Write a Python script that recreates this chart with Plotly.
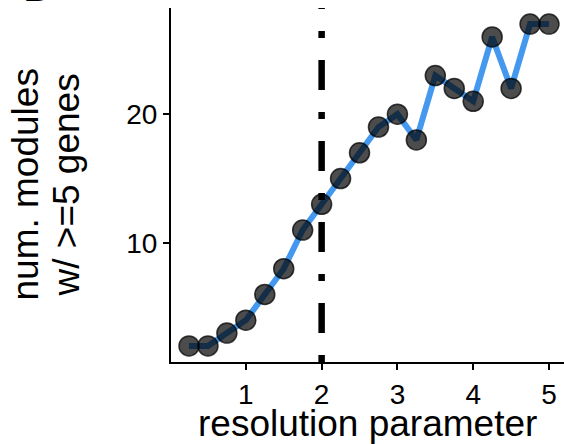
import plotly.graph_objects as go

resolution = [0.25, 0.5, 0.75, 1.0, 1.25, 1.5, 1.75, 2.0, 2.25, 2.5,
              2.75, 3.0, 3.25, 3.5, 3.75, 4.0, 4.25, 4.5, 4.75, 5.0]
num_modules = [2, 2, 3, 4, 6, 8, 11, 13, 15, 17,
               19, 20, 18, 23, 22, 21, 26, 22, 27, 27]
x_ticks = [1, 2, 3, 4, 5]
y_ticks = [10, 20]
chosen_resolution = 2
y_title_lines = ["num. modules", "w/ >=5 genes"]

W, H = 564, 444
L, R, T, B = 171, 0, 8, 82
PW = W - L - R
PH = H - T - B
FONT = "Liberation Sans, Arial, sans-serif"

fig = go.Figure()
fig.add_trace(go.Scatter(
    x=resolution, y=num_modules, mode="lines",
    line=dict(color="#4499EE", width=6), hoverinfo="skip", showlegend=False))
fig.add_trace(go.Scatter(
    x=resolution, y=num_modules, mode="markers",
    marker=dict(size=20, color="rgba(0,0,0,0.7)",
                line=dict(color="rgba(0,0,0,0.75)", width=1.5)),
    showlegend=False))

fig.add_shape(type="line", xref="x", yref="paper",
              x0=chosen_resolution, x1=chosen_resolution, y0=0, y1=1,
              line=dict(color="black", width=6.5, dash="7px,22px,30px,22px"))

annotations = [
    dict(text="resolution parameter", xref="paper", yref="paper",
         x=0.5, y=-(437 - 362) / PH, xanchor="center",
         yanchor="bottom", showarrow=False, yshift=-9,
         font=dict(size=37, color="black", family=FONT)),
    dict(text="<b>B</b>", xref="paper", yref="paper",
         x=-(171 - 36) / PW, y=1 + (T - 3) / PH,
         xanchor="center", yanchor="bottom", showarrow=False, yshift=-7,
         font=dict(size=34, color="black", family=FONT)),
]
for line_text, cx in zip(y_title_lines, [24.5, 65.5]):
    annotations.append(dict(
        text=line_text, xref="paper", yref="paper",
        x=-(L - cx) / PW, y=0.5, xanchor="center", yanchor="middle",
        textangle=-90, showarrow=False,
        font=dict(size=37, color="black", family=FONT)))

fig.update_layout(
    width=W, height=H,
    margin=dict(l=L, r=R, t=T, b=B, pad=0),
    paper_bgcolor="white", plot_bgcolor="white",
    font=dict(family=FONT, color="black"),
    xaxis=dict(range=[0.0125, 5.198], tickvals=x_ticks,
               ticktext=[str(v) for v in x_ticks],
               showgrid=False, zeroline=False, showline=True,
               linecolor="black", linewidth=2, ticks="outside",
               ticklen=6, tickwidth=2, tickcolor="black",
               tickfont=dict(size=28, color="black", family=FONT)),
    yaxis=dict(range=[0.75, 28.25], tickvals=y_ticks,
               ticktext=[str(v) for v in y_ticks],
               showgrid=False, zeroline=False, showline=True,
               linecolor="black", linewidth=2, ticks="outside",
               ticklen=6, tickwidth=2, tickcolor="black",
               tickfont=dict(size=28, color="black", family=FONT)),
    annotations=annotations,
)

fig.write_html("out.html")
